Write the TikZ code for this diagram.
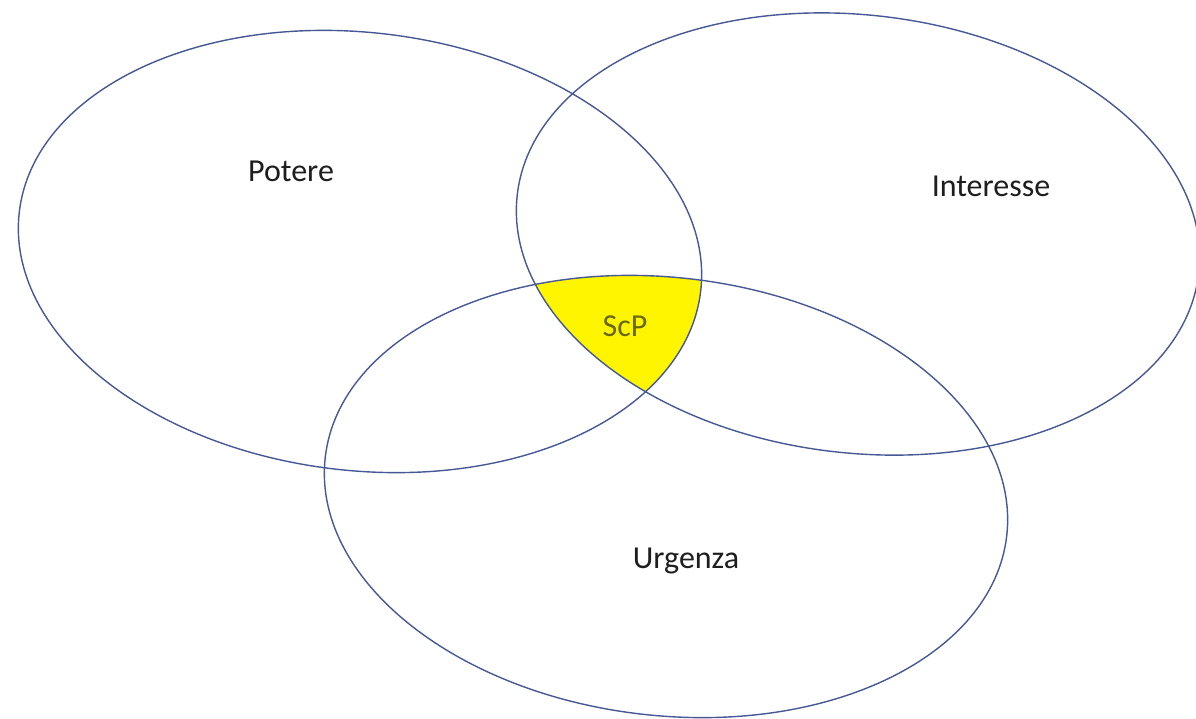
\documentclass[tikz,border=0pt]{standalone}
\usepackage{fontspec}
\setmainfont{Carlito}
\begin{document}
\begin{tikzpicture}[x=1pt,y=1pt,
  ring/.style={draw={rgb,255:red,70;green,88;blue,150},line width=1.4pt},
  lbl/.style={anchor=base,font=\fontsize{32}{38}\selectfont,text={rgb,255:red,30;green,30;blue,30}},
  core/.style={anchor=base,font=\fontsize{32}{38}\selectfont,text={rgb,255:red,105;green,105;blue,20}}]
\useasboundingbox (0,0) rectangle (1196,718);
\fill[white] (0,0) rectangle (1196,718);
\coordinate (cp) at (360,466.5);
\coordinate (ci) at (858,484);
\coordinate (cu) at (666,221.5);
\begin{scope}
  \clip[rotate around={-6.6:(cp)}] (cp) ellipse [x radius=343pt, y radius=219pt];
  \clip[rotate around={-6.6:(ci)}] (ci) ellipse [x radius=343pt, y radius=219pt];
  \fill[fill={rgb,255:red,255;green,245;blue,0},rotate around={-6.6:(cu)}] (cu) ellipse [x radius=343pt, y radius=219pt];
\end{scope}
\draw[ring,rotate around={-6.6:(cp)}] (cp) ellipse [x radius=343pt, y radius=219pt];
\draw[ring,rotate around={-6.6:(ci)}] (ci) ellipse [x radius=343pt, y radius=219pt];
\draw[ring,rotate around={-6.6:(cu)}] (cu) ellipse [x radius=343pt, y radius=219pt];
\node[lbl] (potere) at (291,536) {Potere};
\node[lbl] (interesse) at (991,521) {Interesse};
\node[lbl] (urgenza) at (686,150) {Urgenza};
\node[core] (scp) at (625,381) {ScP};
\end{tikzpicture}
\end{document}
